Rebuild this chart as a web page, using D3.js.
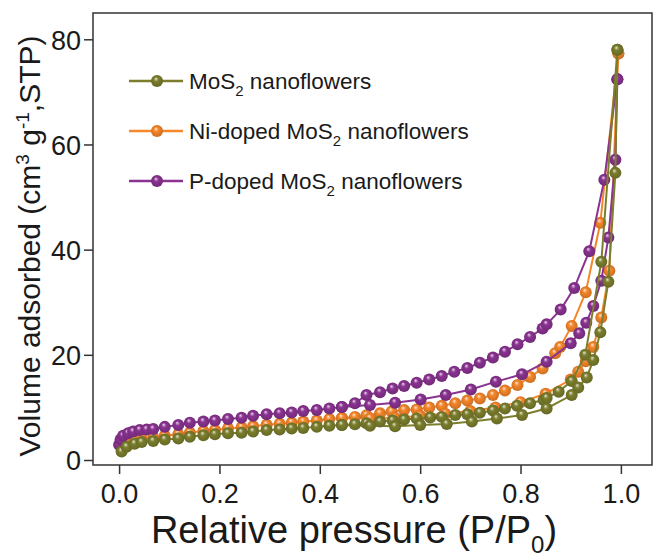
<!DOCTYPE html>
<html>
<head>
<meta charset="utf-8">
<script src="https://cdn.jsdelivr.net/npm/d3@7/dist/d3.min.js"></script>
<style>
  html, body { margin: 0; padding: 0; background: #ffffff; }
  svg { display: block; font-family: "Liberation Sans", Arial, sans-serif; }
</style>
</head>
<body>
<svg id="chart" width="655" height="557"></svg>
<script>
// N2 sorption isotherms: relative pressure vs. volume adsorbed (cm3 g-1, STP)
const seriesNames = ["MoS2 nanoflowers", "Ni-doped MoS2 nanoflowers", "P-doped MoS2 nanoflowers"];
const seriesColors = ["#7b7e2c", "#f5862a", "#8a3391"];

// MoS2 nanoflowers
const mosAdsP = [0.005, 0.015, 0.031, 0.045, 0.068, 0.091, 0.118, 0.141, 0.168, 0.191, 0.217, 0.244, 0.267, 0.294, 0.32, 0.344, 0.367, 0.394, 0.419, 0.444, 0.47, 0.493, 0.52, 0.545, 0.568, 0.593, 0.62, 0.643, 0.67, 0.694, 0.719, 0.745, 0.769, 0.793, 0.819, 0.846, 0.852, 0.876, 0.902, 0.929, 0.961, 0.993];
const mosAdsV = [1.6, 2.5, 3.1, 3.4, 3.6, 3.9, 4.1, 4.4, 4.7, 4.9, 5.1, 5.2, 5.4, 5.7, 5.8, 6.0, 6.1, 6.3, 6.5, 6.65, 6.8, 7.0, 7.3, 7.5, 7.7, 7.9, 8.1, 8.2, 8.55, 8.7, 9.0, 9.4, 9.8, 10.3, 10.8, 11.4, 11.8, 13.0, 15.0, 20.0, 37.7, 78.0];
const mosDesP = [0.993, 0.989, 0.975, 0.959, 0.945, 0.932, 0.915, 0.902, 0.852, 0.803, 0.753, 0.703, 0.653, 0.60, 0.55, 0.50, 0.444];
const mosDesV = [78.0, 54.6, 33.9, 24.3, 19.0, 15.7, 13.8, 12.35, 9.8, 8.55, 7.9, 7.3, 6.84, 6.65, 6.4, 6.5, 6.65];

// Ni-doped MoS2 nanoflowers
const niAdsP = [0.005, 0.015, 0.031, 0.045, 0.068, 0.091, 0.118, 0.141, 0.168, 0.191, 0.217, 0.244, 0.267, 0.294, 0.32, 0.344, 0.367, 0.394, 0.419, 0.444, 0.47, 0.493, 0.52, 0.543, 0.568, 0.593, 0.618, 0.643, 0.67, 0.694, 0.719, 0.745, 0.769, 0.794, 0.819, 0.844, 0.869, 0.879, 0.902, 0.930, 0.959, 0.995];
const niAdsV = [2.1, 3.0, 3.7, 4.0, 4.3, 4.6, 4.9, 5.2, 5.5, 5.7, 6.0, 6.2, 6.4, 6.7, 6.9, 7.1, 7.3, 7.5, 7.8, 8.0, 8.2, 8.5, 8.87, 9.2, 9.5, 9.6, 10.0, 10.3, 10.8, 11.3, 11.7, 12.35, 13.2, 14.25, 15.8, 17.4, 20.3, 21.5, 25.5, 31.9, 45.1, 77.3];
const niDesP = [0.995, 0.977, 0.961, 0.945, 0.930, 0.915, 0.90, 0.85, 0.80, 0.75, 0.70, 0.65, 0.60, 0.55, 0.50, 0.444];
const niDesV = [77.3, 36.0, 27.1, 21.5, 18.8, 16.8, 15.3, 12.6, 11.0, 10.0, 9.3, 8.8, 8.4, 8.0, 7.9, 8.0];

// P-doped MoS2 nanoflowers
const pAdsP = [0.0, 0.003, 0.008, 0.018, 0.028, 0.041, 0.055, 0.068, 0.091, 0.118, 0.141, 0.168, 0.191, 0.217, 0.244, 0.267, 0.294, 0.32, 0.344, 0.367, 0.394, 0.419, 0.444, 0.47, 0.493, 0.52, 0.545, 0.568, 0.593, 0.618, 0.643, 0.668, 0.694, 0.719, 0.745, 0.769, 0.794, 0.819, 0.844, 0.852, 0.880, 0.907, 0.937, 0.967, 0.993];
const pAdsV = [2.9, 3.9, 4.6, 5.1, 5.4, 5.7, 5.8, 5.9, 6.3, 6.65, 7.1, 7.3, 7.5, 7.8, 8.05, 8.4, 8.7, 8.9, 9.05, 9.3, 9.5, 9.8, 10.1, 10.8, 12.35, 12.9, 13.6, 14.06, 14.7, 15.3, 15.96, 16.8, 17.5, 18.5, 19.5, 20.6, 22.0, 23.4, 25.0, 25.8, 28.6, 32.7, 39.7, 53.3, 72.4];
const pDesP = [0.993, 0.989, 0.975, 0.961, 0.945, 0.931, 0.917, 0.900, 0.852, 0.803, 0.751, 0.701, 0.651, 0.601, 0.55, 0.50, 0.444];
const pDesV = [72.4, 57.1, 42.3, 34.1, 29.3, 26.1, 24.1, 22.2, 18.7, 16.3, 14.9, 13.4, 12.35, 11.5, 10.9, 10.45, 10.1];

const xTicks = [0.0, 0.2, 0.4, 0.6, 0.8, 1.0];
const yTicks = [0, 20, 40, 60, 80];

const svg = d3.select("#chart");
const frame = { left: 93, right: 652, top: 13, bottom: 465 };

const x = d3.scaleLinear().domain([-0.052, 1.062]).range([frame.left, frame.right]);
const y = d3.scaleLinear().domain([-0.95, 85]).range([frame.bottom, frame.top]);

// sphere-like marker shading
const defs = svg.append("defs");
seriesColors.forEach((c, i) => {
  const g = defs.append("radialGradient").attr("id", "ball" + i)
    .attr("cx", "50%").attr("cy", "50%").attr("r", "55%")
    .attr("fx", "40%").attr("fy", "30%");
  g.append("stop").attr("offset", "0%").attr("stop-color", d3.interpolateRgb(c, "#ffffff")(0.8));
  g.append("stop").attr("offset", "35%").attr("stop-color", c);
  g.append("stop").attr("offset", "100%").attr("stop-color", d3.color(c).darker(0.6));
});

// frame
svg.append("rect")
  .attr("x", frame.left).attr("y", frame.top)
  .attr("width", frame.right - frame.left).attr("height", frame.bottom - frame.top)
  .attr("fill", "none").attr("stroke", "#333").attr("stroke-width", 1.5);

// axes
const xAxis = svg.append("g").attr("transform", `translate(0,${frame.bottom})`)
  .call(d3.axisBottom(x).tickValues(xTicks).tickFormat(d3.format(".1f")).tickSize(9).tickPadding(10));
const yAxis = svg.append("g").attr("transform", `translate(${frame.left},0)`)
  .call(d3.axisLeft(y).tickValues(yTicks).tickFormat(d3.format("d")).tickSize(9).tickPadding(3));
[xAxis, yAxis].forEach(a => {
  a.select(".domain").remove();
  a.selectAll(".tick line").attr("stroke", "#333").attr("stroke-width", 1.5);
  a.selectAll(".tick text").attr("fill", "#1a1a1a").style("font-size", "27px");
});
yAxis.selectAll(".tick text").attr("dy", "0.36em");

// axis titles
const xt = svg.append("text").attr("x", 354).attr("y", 543).attr("text-anchor", "middle")
  .attr("fill", "#1a1a1a").style("font-size", "38px");
xt.append("tspan").text("Relative pressure (P/P");
xt.append("tspan").attr("dy", 10).style("font-size", "24px").text("0");
xt.append("tspan").attr("dy", -10).text(")");

const yt = svg.append("text").attr("transform", "translate(40,246) rotate(-90)")
  .attr("text-anchor", "middle").attr("fill", "#1a1a1a").style("font-size", "30px");
yt.append("tspan").text("Volume adsorbed (cm");
yt.append("tspan").attr("dy", -11).style("font-size", "19px").text("3");
yt.append("tspan").attr("dy", 11).text(" g");
yt.append("tspan").attr("dy", -11).style("font-size", "19px").text("-1");
yt.append("tspan").attr("dy", 11).text(",STP)");

// isotherm curves
const samples = [
  { i: 1, ads: [niAdsP, niAdsV], des: [niDesP, niDesV] },
  { i: 2, ads: [pAdsP, pAdsV], des: [pDesP, pDesV] },
  { i: 0, ads: [mosAdsP, mosAdsV], des: [mosDesP, mosDesV] }
];
const line = d3.line().x(d => x(d[0])).y(d => y(d[1]));
const R = 6;

samples.forEach(s => {
  const g = svg.append("g");
  [s.ads, s.des].forEach(br => {
    const pts = d3.zip(br[0], br[1]);
    g.append("path").datum(pts).attr("d", line)
      .attr("fill", "none").attr("stroke", seriesColors[s.i]).attr("stroke-width", 2);
  });
  [s.ads, s.des].forEach(br => {
    const pts = d3.zip(br[0], br[1]);
    g.selectAll(null).data(pts).enter().append("circle")
      .attr("cx", d => x(d[0])).attr("cy", d => y(d[1])).attr("r", R)
      .attr("fill", `url(#ball${s.i})`);
  });
});

// legend
const legendY = [81, 131, 181];
seriesNames.forEach((name, i) => {
  const g = svg.append("g").attr("transform", `translate(0,${legendY[i]})`);
  g.append("line").attr("x1", 129).attr("x2", 183).attr("y1", 0).attr("y2", 0)
    .attr("stroke", seriesColors[i]).attr("stroke-width", 2.5);
  g.append("circle").attr("cx", 157).attr("cy", 0).attr("r", R).attr("fill", `url(#ball${i})`);
  const t = g.append("text").attr("x", 189).attr("y", 8).attr("fill", "#1a1a1a")
    .style("font-size", "22.5px");
  const parts = name.split("MoS2");
  t.append("tspan").text(parts[0] + "MoS");
  t.append("tspan").attr("dy", 7).style("font-size", "15px").text("2");
  t.append("tspan").attr("dy", -7).text(parts[1]);
});
</script>
</body>
</html>
